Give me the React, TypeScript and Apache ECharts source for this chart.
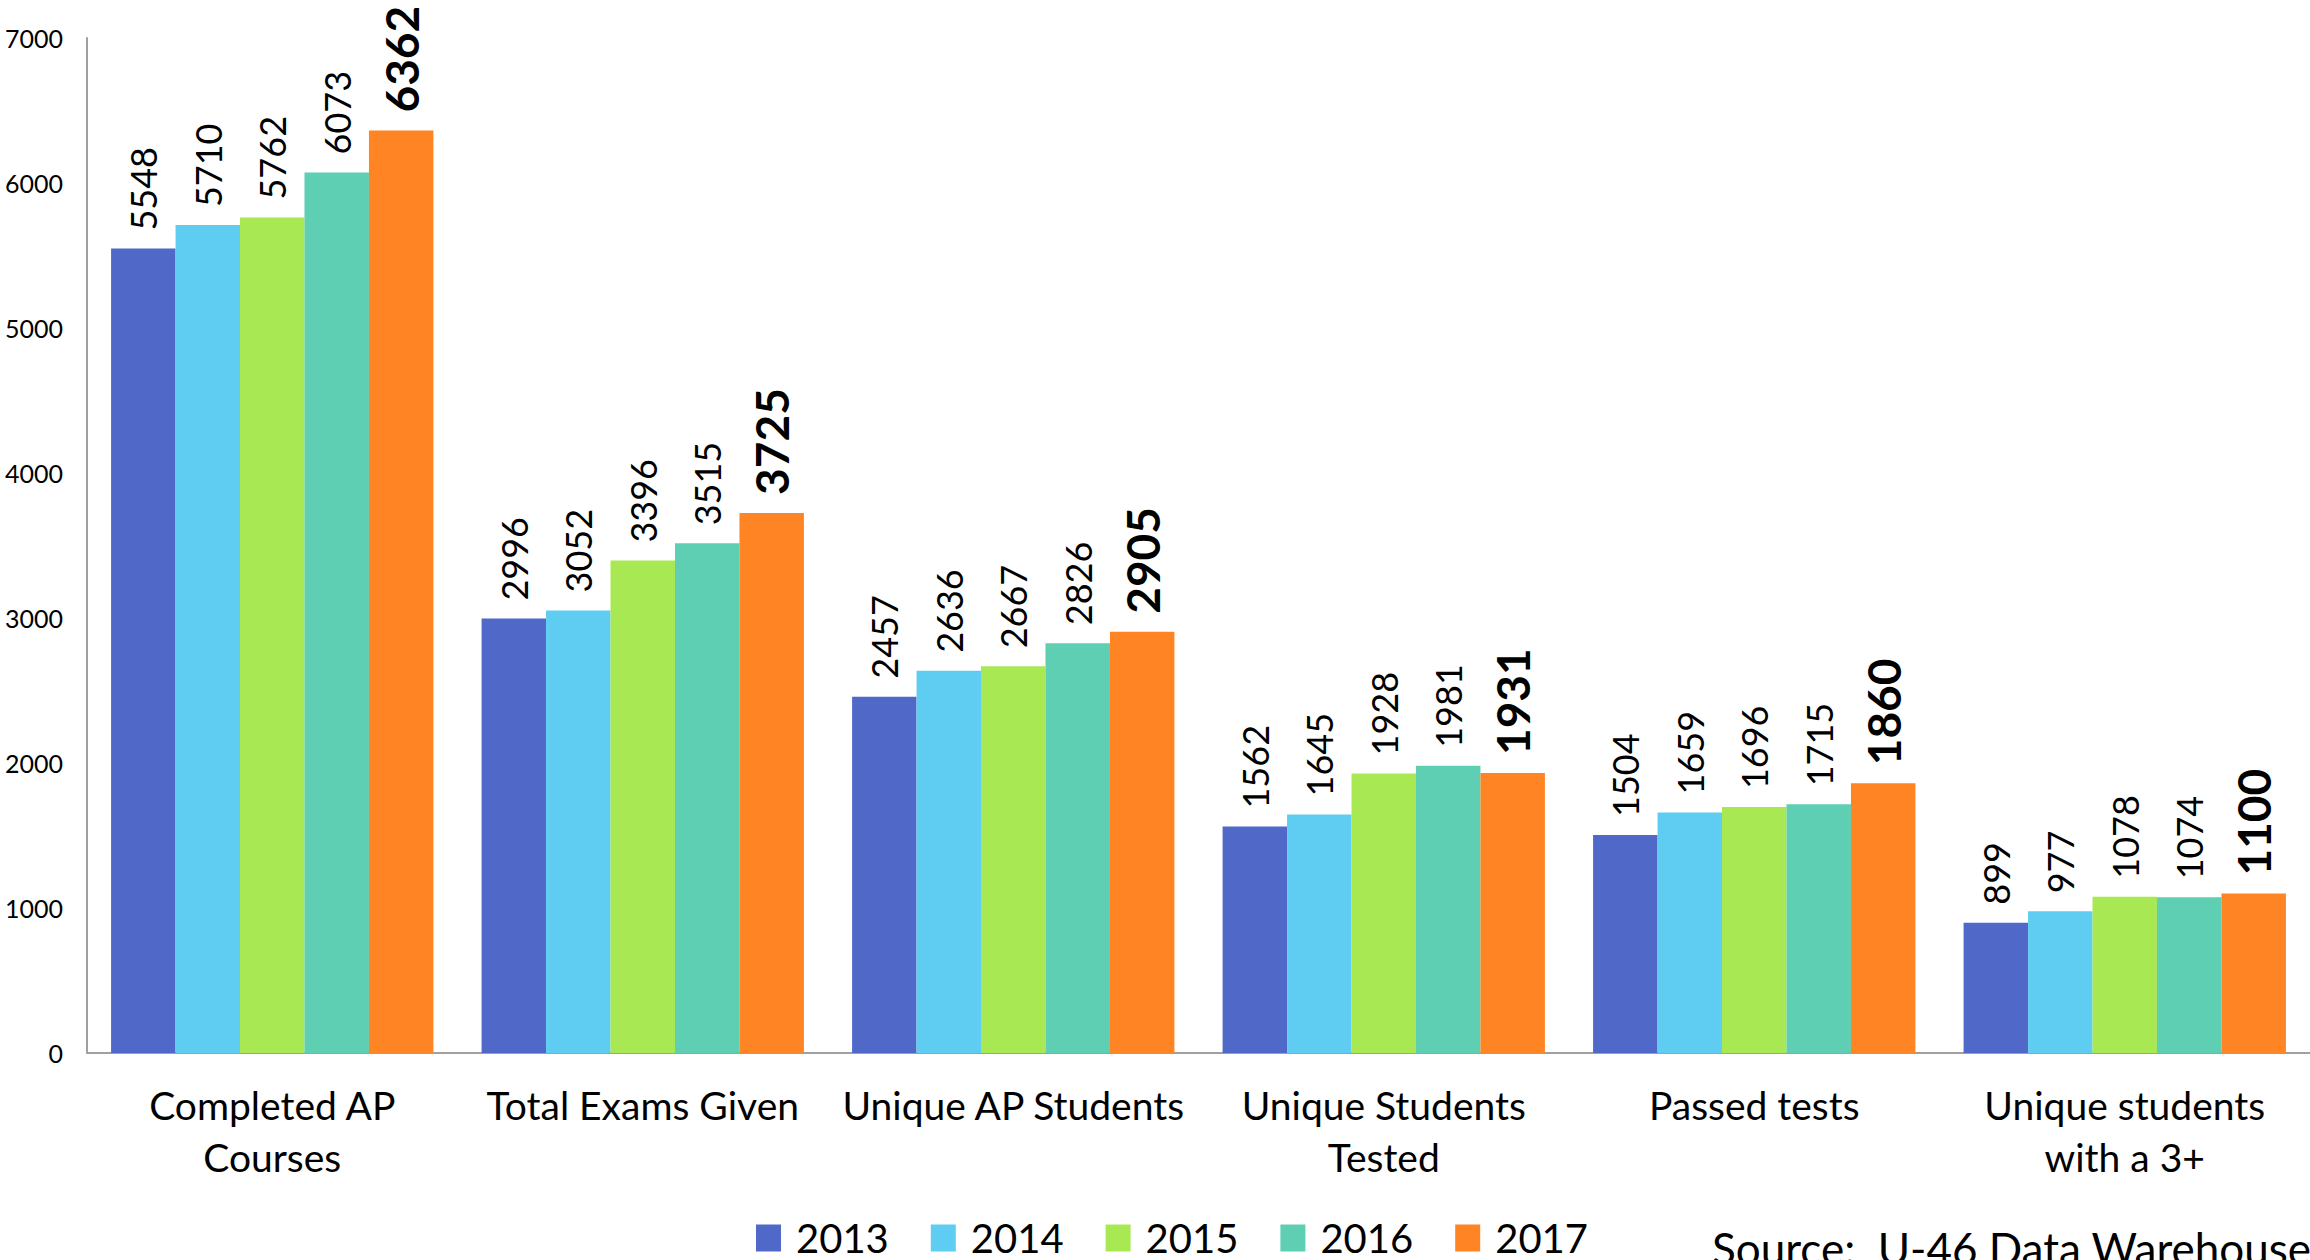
import React, { useEffect, useRef } from "react";
import * as echarts from "echarts";

const categories = [
  "Completed AP\nCourses",
  "Total Exams Given",
  "Unique AP Students",
  "Unique Students\nTested",
  "Passed tests",
  "Unique students\nwith a 3+",
];
const years = ["2013", "2014", "2015", "2016", "2017"];
const values2013 = [5548, 2996, 2457, 1562, 1504, 899];
const values2014 = [5710, 3052, 2636, 1645, 1659, 977];
const values2015 = [5762, 3396, 2667, 1928, 1696, 1078];
const values2016 = [6073, 3515, 2826, 1981, 1715, 1074];
const values2017 = [6362, 3725, 2905, 1931, 1860, 1100];
const seriesValues = [values2013, values2014, values2015, values2016, values2017];
const colors = ["#5068C7", "#5FCDF2", "#A8E852", "#5ECFB2", "#FF8424"];
const yTicks = { min: 0, max: 7000, interval: 1000 };
const sourceText = "Source:  U-46 Data Warehouse";

const FONT = "Lato, 'Open Sans', sans-serif";

export default function App() {
  const ref = useRef<HTMLDivElement>(null);
  useEffect(() => {
    if (!ref.current) return;
    const chart = echarts.init(ref.current, undefined, { renderer: "svg" });
    const series = years.map((y, i) => {
      const bold = i === years.length - 1;
      return {
        name: y,
        type: "bar",
        data: seriesValues[i],
        barGap: "0%",
        barCategoryGap: "13%",
        itemStyle: { color: colors[i] },
        label: {
          show: true,
          position: "top",
          rotate: 90,
          align: "left",
          verticalAlign: "middle",
          distance: 18,
          color: "#000",
          fontFamily: FONT,
          fontSize: bold ? 46 : 36,
          fontWeight: bold ? "bold" : "normal",
        },
      };
    });
    chart.setOption({
      animation: false,
      backgroundColor: "#fff",
      textStyle: { fontFamily: FONT },
      grid: { left: 87, right: 0, top: 38, bottom: 207, containLabel: false },
      xAxis: {
        type: "category",
        data: categories,
        axisLine: { show: true, lineStyle: { color: "#A0A0A0", width: 2 } },
        axisTick: { show: false },
        axisLabel: {
          color: "#000",
          fontSize: 39,
          lineHeight: 52,
          margin: 26,
          interval: 0,
          fontFamily: FONT,
        },
      },
      yAxis: {
        type: "value",
        min: yTicks.min,
        max: yTicks.max,
        interval: yTicks.interval,
        axisLine: { show: true, lineStyle: { color: "#A0A0A0", width: 2 } },
        axisTick: { show: false },
        splitLine: { show: false },
        axisLabel: {
          color: "#000",
          fontSize: 25,
          margin: 24,
          fontFamily: FONT,
          formatter: (v: number) => String(v),
        },
      },
      legend: {
        data: years,
        left: 751,
        top: 1213,
        itemWidth: 25,
        itemHeight: 27,
        itemGap: 42,
        icon: "rect",
        textStyle: { color: "#000", fontSize: 40, fontFamily: FONT, padding: [0, 0, 0, 10] },
      },
      graphic: [
        {
          type: "text",
          left: 1712,
          top: 1226,
          style: { text: sourceText, fill: "#000", font: `44px ${FONT}` },
        },
      ],
      series,
    });
    return () => chart.dispose();
  }, []);
  return (
    <div
      ref={ref}
      style={{ position: "absolute", left: 0, top: 0, width: 2310, height: 1260 }}
    />
  );
}
